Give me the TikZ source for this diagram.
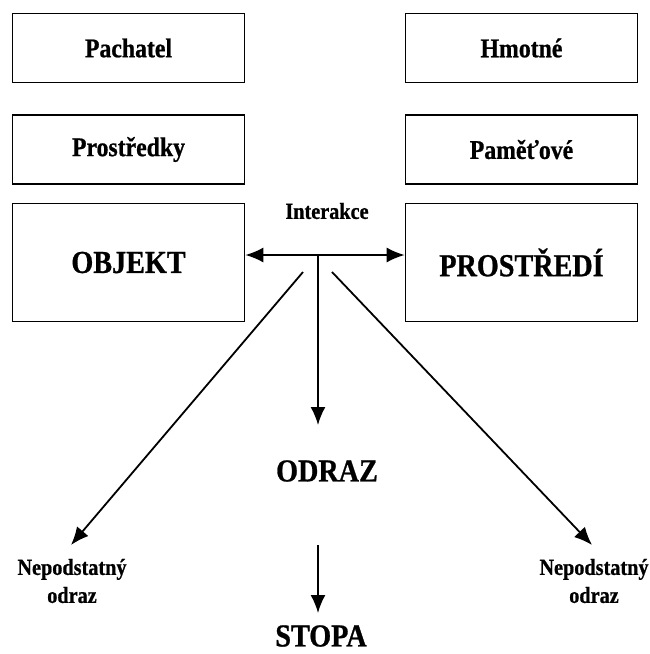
\documentclass[tikz,border=0pt]{standalone}
\usepackage{fontspec}
\setmainfont[FakeStretch=0.88, BoldFeatures={FakeBold=0.8}]{Liberation Serif}
\usetikzlibrary{arrows.meta}
\begin{document}
\begin{tikzpicture}[x=1pt,y=-1pt,
    box/.style      = {draw, line width=1.6pt, inner sep=0pt, font=\bfseries\fontsize{27}{31}\selectfont},
    smallbox/.style = {box, minimum width=232pt, minimum height=69pt},
    bigbox/.style   = {box, minimum width=232pt, minimum height=118pt, font=\bfseries\fontsize{32}{36}\selectfont},
    lbl/.style      = {font=\bfseries\fontsize{23}{28}\selectfont, align=center, inner sep=0pt},
    big/.style      = {font=\bfseries\fontsize{32}{36}\selectfont, inner sep=0pt},
    arr/.style      = {line width=1.8pt, -{Latex[length=18pt,width=15pt]}},
    dbl/.style      = {line width=1.8pt, {Latex[length=18pt,width=15pt]}-{Latex[length=18pt,width=15pt]}}]

                \useasboundingbox (0,0) rectangle (650,654);

                % boxes
                \node [smallbox](pachatel)   at (128.5, 48)  {Pachatel};
                \node [smallbox](hmotne)     at (521.5, 48)  {Hmotné};
                \node [smallbox](prostredky) at (128.5, 149.5) {Prostředky};
                \node [smallbox](pametove)   at (521.5, 149.5) {Paměťové};
                \node [bigbox](objekt)       at (128.5, 262.5) {OBJEKT};
                \node [bigbox](prostredi)    at (521.5, 262.5) {PROSTŘEDÍ};

                % labels
                \node [lbl](interakce) at (327, 211) {Interakce};
                \node [big](odraz)     at (327, 471) {ODRAZ};
                \node [big](stopa)     at (321, 636) {STOPA};
                \node [lbl](nepL)      at (72, 581)  {Nepodstatný\\odraz};
                \node [lbl](nepR)      at (594, 581) {Nepodstatný\\odraz};

                % interaction
                \coordinate (jn) at (318, 255);
                \draw [dbl] (objekt.east |- jn) -- (prostredi.west |- jn);

                \coordinate (down) at (318, 425);
                \draw [arr] (jn) -- (down);

                \coordinate (ls) at (303, 272);
                \coordinate (lt) at (71, 545);
                \coordinate (rs) at (332, 272);
                \coordinate (rt) at (592, 545);
                \draw [arr] (ls) -- (lt);
                \draw [arr] (rs) -- (rt);

                \coordinate (sa) at (318, 545);
                \coordinate (sb) at (318, 613);
                \draw [arr] (sa) -- (sb);
\end{tikzpicture}
\end{document}
